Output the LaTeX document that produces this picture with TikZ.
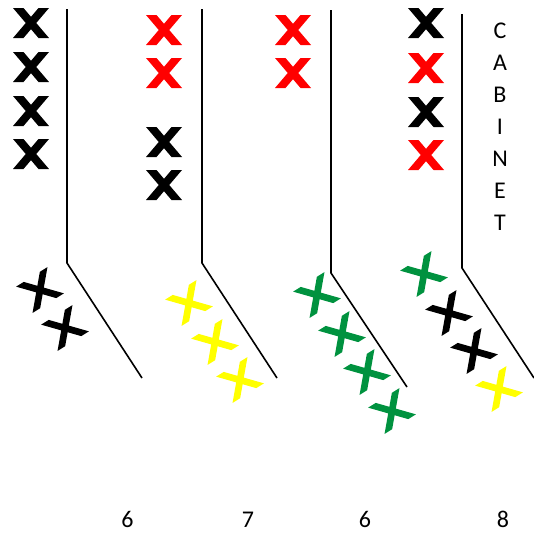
\documentclass[tikz,border=0pt]{standalone}
\usepackage{fontspec}
\setmainfont{Carlito}
\definecolor{xred}{HTML}{FF0000}
\definecolor{xyellow}{HTML}{FFFF00}
\definecolor{xgreen}{HTML}{00923F}
\tikzset{
  wall/.style={line width=1.6pt, line join=miter},
  lbl/.style={font=\fontsize{24}{26}\selectfont, anchor=base, inner sep=0pt},
  xmark/.pic={
    \fill (-18,-15) -- (-7.5,-15) -- (18,15) -- (7.5,15) -- cycle;
    \fill (18,-15) -- (7.5,-15) -- (-18,15) -- (-7.5,15) -- cycle;
  },
  xtilt/.pic={
    \fill (-18.5,-15.5) -- (-9.5,-15.5) -- (18.5,15.5) -- (9.5,15.5) -- cycle;
    \fill (18.5,-15.5) -- (9.5,-15.5) -- (-18.5,15.5) -- (-9.5,15.5) -- cycle;
  },
  tilt/.style={rotate=32}
}
\begin{document}
\begin{tikzpicture}[x=1pt,y=-1pt]
\useasboundingbox (0,0) rectangle (534,533);
% walls
\coordinate (t1) at (67,9);   \coordinate (b1) at (67,263);  \coordinate (e1) at (142,378);
\coordinate (t2) at (202,9);  \coordinate (b2) at (202,263); \coordinate (e2) at (277,378);
\coordinate (t3) at (331,10); \coordinate (b3) at (331,273); \coordinate (e3) at (407,387);
\coordinate (t4) at (462,14); \coordinate (b4) at (462,268); \coordinate (e4) at (534,378);
\draw[wall] (t1) -- (b1) -- (e1);
\draw[wall] (t2) -- (b2) -- (e2);
\draw[wall] (t3) -- (b3) -- (e3);
\draw[wall] (t4) -- (b4) -- (e4);
% upright marks
\pic[black] at (31,23) {xmark};
\pic[black] at (31,67) {xmark};
\pic[black] at (31,111) {xmark};
\pic[black] at (31,154) {xmark};
\pic[xred] at (164,30) {xmark};
\pic[xred] at (164,73) {xmark};
\pic[black] at (164,142) {xmark};
\pic[black] at (164,185) {xmark};
\pic[xred] at (293,30) {xmark};
\pic[xred] at (293,73) {xmark};
\pic[black] at (426,23) {xmark};
\pic[xred] at (426,68) {xmark};
\pic[black] at (426,112) {xmark};
\pic[xred] at (426,155) {xmark};
% slanted marks
\pic[black, tilt] at (40,290) {xtilt};
\pic[black, tilt] at (65,328) {xtilt};
\pic[xyellow, tilt] at (189,303) {xtilt};
\pic[xyellow, tilt] at (215,342) {xtilt};
\pic[xyellow, tilt] at (240,380) {xtilt};
\pic[xgreen, tilt] at (317,295) {xtilt};
\pic[xgreen, tilt] at (342,334) {xtilt};
\pic[xgreen, tilt] at (367,372) {xtilt};
\pic[xgreen, tilt] at (392,411) {xtilt};
\pic[xgreen, tilt] at (424,274) {xtilt};
\pic[black, tilt] at (449,313) {xtilt};
\pic[black, tilt] at (474,351) {xtilt};
\pic[xyellow, tilt] at (499,389) {xtilt};
% cabinet label
\node[lbl] (c1) at (500,38) {C};
\node[lbl] (c2) at (500,70) {A};
\node[lbl] (c3) at (500,102) {B};
\node[lbl] (c4) at (500,134) {I};
\node[lbl] (c5) at (500,166) {N};
\node[lbl] (c6) at (500,198) {E};
\node[lbl] (c7) at (500,230) {T};
% counts
\node[lbl] (n1) at (127.5,527) {6};
\node[lbl] (n2) at (248,527) {7};
\node[lbl] (n3) at (365,527) {6};
\node[lbl] (n4) at (503,527) {8};
\end{tikzpicture}
\end{document}
